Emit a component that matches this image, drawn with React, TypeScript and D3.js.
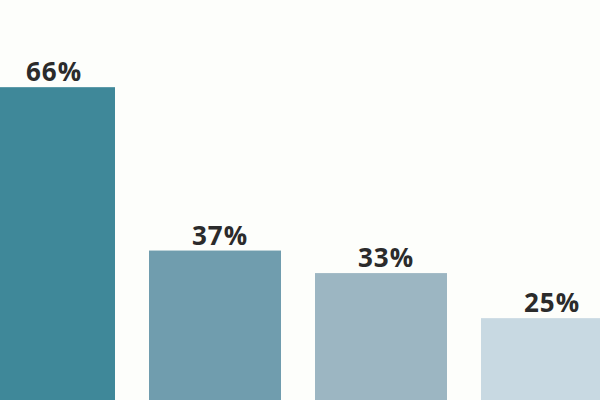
import React from "react";
import * as d3 from "d3";

const categories = ["A", "B", "C", "D"];
const values = [66, 37, 33, 25];
const labels = ["66%", "37%", "33%", "25%"];
const colors = ["#3f8899", "#709dae", "#9cb6c2", "#c8d9e2"];

const W = 600;
const H = 400;

export default function App() {
  const x = d3
    .scaleBand<string>()
    .domain(categories)
    .range([-17, 613])
    .paddingInner(0.2048)
    .paddingOuter(0);
  const y = d3.scaleLinear().domain([0, 80]).range([459, 8.3]);

  return (
    <svg
      width={W}
      height={H}
      viewBox={`0 0 ${W} ${H}`}
      style={{ position: "absolute", left: 0, top: 0, background: "#fdfefb" }}
    >
      <rect x={0} y={0} width={W} height={H} fill="#fdfefb" />
      {categories.map((c, i) => (
        <rect
          key={c}
          x={x(c)}
          y={y(values[i])}
          width={x.bandwidth()}
          height={y(0) - y(values[i])}
          fill={colors[i]}
        />
      ))}
      {categories.map((c, i) => (
        <text
          key={"t" + c}
          x={(x(c) as number) + x.bandwidth() / 2 + 5}
          y={y(values[i]) - 6}
          textAnchor="middle"
          fontFamily="'Open Sans', sans-serif"
          fontWeight={700}
          fontSize={26}
          letterSpacing={1}
          fill="#2b2b2b"
        >
          {labels[i]}
        </text>
      ))}
    </svg>
  );
}
